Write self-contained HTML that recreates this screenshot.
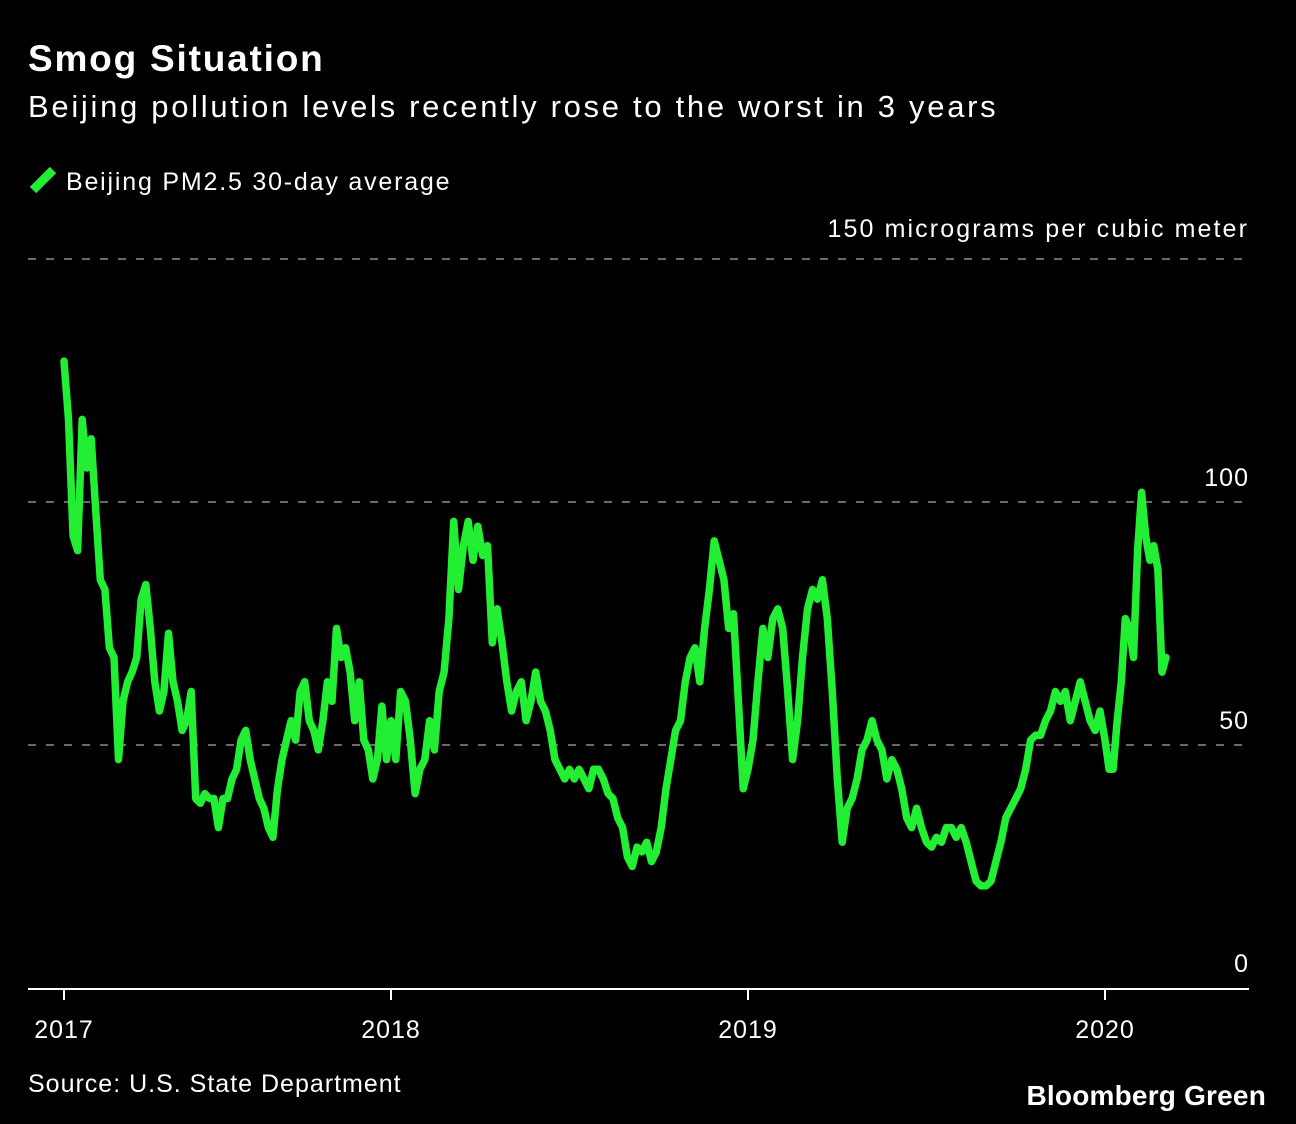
<!DOCTYPE html>
<html><head><meta charset="utf-8">
<style>
html,body{margin:0;padding:0;background:#000;}
body{width:1296px;height:1124px;position:relative;overflow:hidden;font-family:"Liberation Sans",Arial,sans-serif;color:#fff;}
.t{position:absolute;white-space:nowrap;}
</style></head><body>
<div class="t" style="left:28px;top:38px;font-size:37px;font-weight:bold;letter-spacing:1.8px;">Smog Situation</div>
<div class="t" style="left:28px;top:89px;font-size:31px;letter-spacing:2.7px;">Beijing pollution levels recently rose to the worst in 3 years</div>
<div style="position:absolute;left:28px;top:166px;">
  <svg width="32" height="32" style="position:absolute;left:0;top:0;"><line x1="5" y1="24" x2="25" y2="4" stroke="#22ee33" stroke-width="9"/></svg>
  <div class="t" style="left:38px;top:2px;font-size:25px;letter-spacing:1.8px;">Beijing PM2.5 30-day average</div>
</div>
<div class="t" style="right:47px;top:215px;font-size:25px;letter-spacing:2.1px;">150 micrograms per cubic meter</div>
<div class="t" style="left:28px;top:1070px;font-size:25px;letter-spacing:1px;">Source: U.S. State Department</div>
<div class="t" style="right:30px;top:1080px;font-size:28px;font-weight:bold;letter-spacing:0.2px;">Bloomberg Green</div>
<svg id="chart" width="1296" height="1124" style="position:absolute;left:0;top:0;"></svg>
<script>
const yTicks=[0,50,100];
const yTickLabels=["0","50","100"];
const xTickYears=[2017,2018,2019,2020];
const xTickLabels=["2017","2018","2019","2020"];
const v2017=[129,117,93,90,117,107,113,98,84,82,70,68,47,59,63,65,68,80,83,74,63,57,61,73,63,59,53,55,61,39,38,40,39,39,33,39,39,43,45,51,53,47,43,39,37,33,31,41,47,51,55,51,61,63,55,53,49,55,63,59,74,68,70,65,55,63,51,49,43,47,58,47];
const v2018=[55,47,61,59,51,40,45,47,55,49,61,65,76,96,82,91,96,88,95,89,91,71,78,71,63,57,61,63,55,59,65,59,57,53,47,45,43,45,43,45,43,41,45,45,43,40,39,35,33,27,25,29,28,30,26,28,33,41,47,53,55,63,68,70,63,74,82,92,88,84,74,77,59,41];
const v2019=[45,51,63,74,68,76,78,74,61,47,55,68,78,82,80,84,76,61,43,30,37,39,43,49,51,55,51,49,43,47,45,41,35,33,37,33,30,29,31,30,33,33,31,33,30,26,22,21,21,22,26,30,35,37,39,41,45,51,52,52,55,57,61,59,61,55,59,63,59,55,53,57];
const v2020=[51,45,45,55,63,76,74,68,90,102,93,88,91,86,65,68];
const end2020=2020.171;

const NS="http://www.w3.org/2000/svg";
const svg=document.getElementById('chart');
const tickPx=[64,391,748,1105];
function x(t){
  let i=Math.min(Math.max(Math.floor(t-2017),0),2);
  return tickPx[i]+(t-(2017+i))*(tickPx[i+1]-tickPx[i]);
}
function y(v){return 988-v*4.86;}
function mk(tag,attrs){const e=document.createElementNS(NS,tag);for(const k in attrs)e.setAttribute(k,attrs[k]);svg.appendChild(e);return e;}

yTicks.forEach((v,i)=>{
  if(v>0){
    const g=mk('line',{x1:28,x2:1245,y1:y(v),y2:y(v),stroke:'#6a6a6a','stroke-width':2,'stroke-dasharray':'8 10'});
    
    
  }
  const t=mk('text',{x:1249,y:y(v)-16,'text-anchor':'end','font-size':25,fill:'#fff','font-family':'Liberation Sans, sans-serif','letter-spacing':1});
  t.textContent=yTickLabels[i];
  
  
});
const g150=mk('line',{x1:28,x2:1245,y1:y(150),y2:y(150),stroke:'#6a6a6a','stroke-width':2,'stroke-dasharray':'8 10'});



const base=mk('line',{x1:28,x2:1249,y1:989,y2:989,stroke:'#fff','stroke-width':2});


xTickYears.forEach((yr,i)=>{
  const tk=mk('line',{x1:x(yr),x2:x(yr),y1:989,y2:1000,stroke:'#fff','stroke-width':2});
  
  
  const t=mk('text',{x:x(yr),y:1038,'text-anchor':'middle','font-size':25,fill:'#fff','font-family':'Liberation Sans, sans-serif','letter-spacing':1});
  t.textContent=xTickLabels[i];
  
  
});

const pts=[];
[[2017,v2017],[2018,v2018],[2019,v2019]].forEach(([yr,arr])=>{
  arr.forEach((v,i)=>pts.push([yr+i/arr.length,v]));
});
v2020.forEach((v,i)=>pts.push([2020+i*(end2020-2020)/(v2020.length-1),v]));
const d=pts.map((p,i)=>(i?'L':'M')+x(p[0]).toFixed(1)+','+y(p[1]).toFixed(1)).join('');
const line=mk('path',{d:d,fill:'none',stroke:'#22ee33','stroke-width':7.5,'stroke-linejoin':'round','stroke-linecap':'round'});


</script>
</body></html>
